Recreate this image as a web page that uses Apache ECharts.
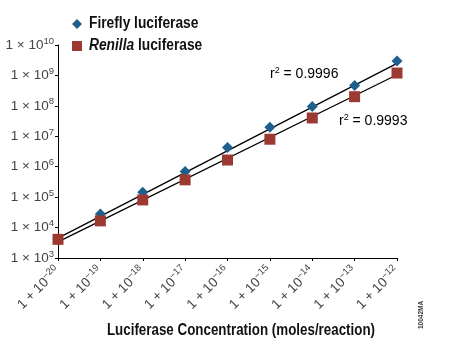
<!DOCTYPE html>
<html><head><meta charset="utf-8">
<script src="https://cdn.jsdelivr.net/npm/echarts@6/dist/echarts.min.js"></script>
<style>html,body{margin:0;padding:0;background:#fff}#c{width:449px;height:344px}</style>
</head><body><div id="c"></div>
<script>
// log10 of concentration (moles/reaction)
const concExp = [-20, -19, -18, -17, -16, -15, -14, -13, -12];
const fireflyRLU = [4.2e3, 2.8e4, 1.45e5, 6.9e5, 4.3e6, 2.0e7, 9.6e7, 4.7e8, 3.0e9];
const renillaRLU = [4.1e3, 1.66e4, 8.1e4, 3.7e5, 1.66e6, 8.0e6, 4.0e7, 2.0e8, 1.2e9];
// fitted regression lines (endpoints)
const fitExp = [-20, -12];
const fireflyFit = [4.5e3, 2.5e9];
const renillaFit = [3.4e3, 1.05e9];
const r2Firefly = "0.9996";
const r2Renilla = "0.9993";
const xTitle = 'Luciferase Concentration (moles/reaction)';
const legendFirefly = 'Firefly luciferase';
const legendRenillaItalic = 'Renilla';
const legendRenillaRest = ' luciferase';

const fireflyColor = '#1e5f8e';
const renillaColor = '#9c3a32';

const chart = echarts.init(document.getElementById('c'));
const font = 'Liberation Sans, Arial, sans-serif';
const supRich = (size, sup, pad) => ({
  n: {fontFamily: font, fontSize: size, color: '#444'},
  s: {fontFamily: font, fontSize: sup, color: '#444', verticalAlign: 'bottom', padding: [0,0,pad,0]}
});
chart.setOption({
  animation: false,
  grid: {left: 58, right: 52, top: 45, bottom: 86},
  xAxis: {
    type: 'value', min: -20, max: -12, interval: 1,
    axisLine: {lineStyle: {color: '#000', width: 1}},
    axisTick: {show: true, length: 3, lineStyle: {color: '#000'}},
    splitLine: {show: false},
    axisLabel: {
      rotate: 45, margin: 11,
      formatter: v => '{n|1 + 10}{s|' + String(v).replace('-', '−') + '}',
      rich: supRich(13.5, 9.5, 8)
    }
  },
  yAxis: {
    type: 'log', logBase: 10, min: 1e3, max: 1e10,
    axisLine: {show: true, lineStyle: {color: '#000', width: 1}},
    axisTick: {show: true, length: 3, lineStyle: {color: '#000'}},
    splitLine: {show: false},
    axisLabel: {
      margin: 4,
      formatter: v => '{n|1 × 10}{s|' + Math.round(Math.log10(v)) + '}',
      rich: supRich(13.5, 9.5, 8)
    }
  },
  series: [
    {name: 'FireflyFit', type: 'line', data: fitExp.map((x,i)=>[x, fireflyFit[i]]), showSymbol: false, symbol: 'none',
     lineStyle: {color: '#000', width: 1.3}, z: 1, silent: true},
    {name: 'RenillaFit', type: 'line', data: fitExp.map((x,i)=>[x, renillaFit[i]]), showSymbol: false, symbol: 'none',
     lineStyle: {color: '#000', width: 1.3}, z: 1, silent: true},
    {name: 'Firefly', type: 'scatter', symbol: 'diamond', symbolSize: 11,
     data: concExp.map((x,i)=>[x, fireflyRLU[i]]), itemStyle: {color: fireflyColor, opacity: 1}, z: 3},
    {name: 'Renilla', type: 'scatter', symbol: 'rect', symbolSize: 11,
     data: concExp.map((x,i)=>[x, renillaRLU[i]]), itemStyle: {color: renillaColor, opacity: 1}, z: 4}
  ],
  graphic: [
    // legend
    {type: 'polygon', shape: {points: [[77,19],[82,24],[77,29],[72,24]]}, style: {fill: fireflyColor}},
    {type: 'rect', shape: {x: 72, y: 41, width: 10, height: 10}, style: {fill: renillaColor}},
    {type: 'text', x: 89, y: 24, scaleX: 0.86, style: {text: '{b|' + legendFirefly + '}', verticalAlign: 'middle',
      rich: {b: {fontFamily: font, fontWeight: 'bold', fontSize: 16, fill: '#111'}}}},
    {type: 'text', x: 89, y: 46, scaleX: 0.86, style: {text: '{i|' + legendRenillaItalic + '}{b|' + legendRenillaRest + '}', verticalAlign: 'middle',
      rich: {b: {fontFamily: font, fontWeight: 'bold', fontSize: 16, fill: '#111'},
             i: {fontFamily: font, fontWeight: 'bold', fontStyle: 'italic', fontSize: 16, fill: '#111'}}}},
    // axis title
    {type: 'text', x: 241, y: 330, scaleX: 0.81, style: {text: xTitle, align: 'center', verticalAlign: 'middle',
      fontFamily: font, fontWeight: 'bold', fontSize: 16.5, fill: '#111'}},
    // r² labels
    {type: 'text', left: 270, top: 66, style: {text: '{n|r}{s|2}{n| = ' + r2Firefly + '}', rich: supRich(14, 9, 7)}},
    {type: 'text', left: 339, top: 113, style: {text: '{n|r}{s|2}{n| = ' + r2Renilla + '}', rich: supRich(14, 9, 7)}},
    {type: 'text', x: 418, y: 329, rotation: Math.PI/2, style: {text: '10042MA', fontFamily: font, fontWeight: 'bold', fontSize: 6.5, fill: '#333'}}
  ]
});
</script></body></html>
